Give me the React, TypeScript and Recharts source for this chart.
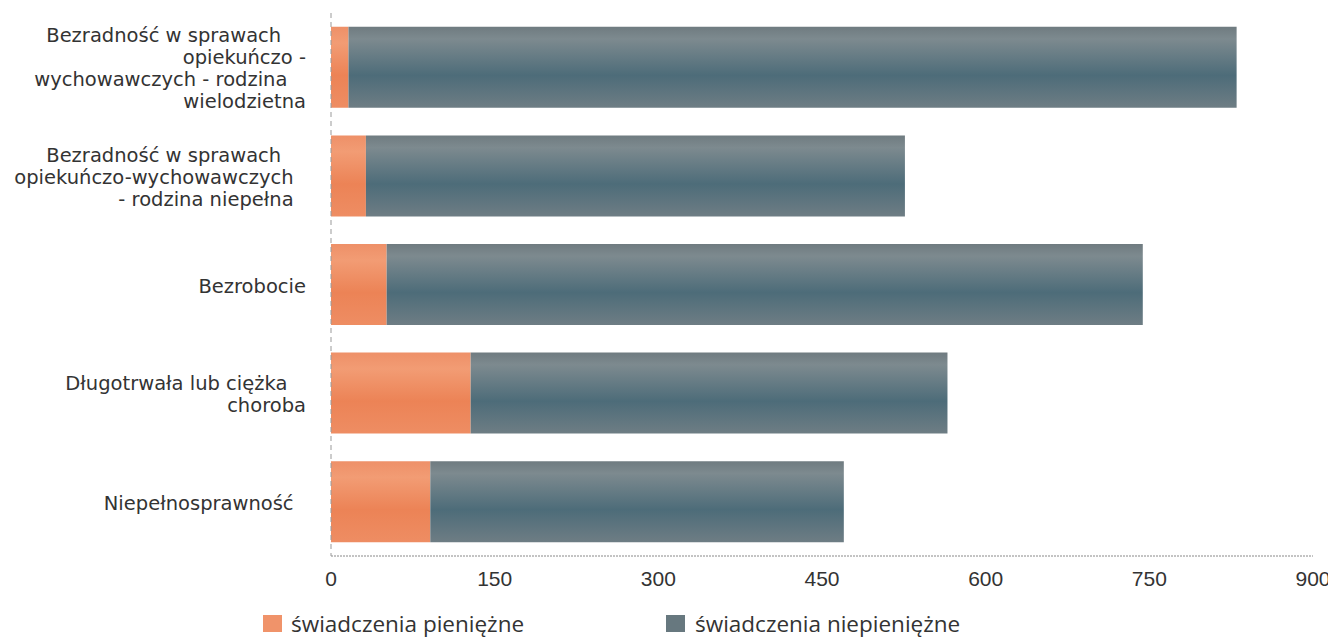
import React from "react";
import { BarChart, Bar, XAxis, YAxis, Legend } from "recharts";

const categories: string[][] = [
  ["Bezradność w sprawach    ", "opiekuńczo -", "wychowawczych - rodzina   ", "wielodzietna"],
  ["Bezradność w sprawach    ", "opiekuńczo-wychowawczych  ", "- rodzina niepełna  "],
  ["Bezrobocie"],
  ["Długotrwała lub ciężka   ", "choroba"],
  ["Niepełnosprawność  "],
];
const pieniezne = [16, 32, 51, 128, 91];
const niepieniezne = [814, 494, 693, 437, 379];
const xTicks = [0, 150, 300, 450, 600, 750, 900];
const seriesNames = ["świadczenia pieniężne", "świadczenia niepieniężne"];

const data = categories.map((c, i) => ({
  name: c.join("|"),
  p: pieniezne[i],
  n: niepieniezne[i],
}));

const YTick = (props: any) => {
  const { x, y, payload } = props;
  const lines: string[] = String(payload.value).split("|");
  const lh = 22;
  const start = -((lines.length - 1) * lh) / 2;
  return (
    <text
      x={x}
      y={y}
      textAnchor="end"
      fontFamily="DejaVu Sans"
      fontSize={19.5}
      fill="#333"
      style={{ whiteSpace: "pre" }}
    >
      {lines.map((l, i) => (
        <tspan key={i} x={x} y={y + start + i * lh + 1} dy="0.36em">
          {l}
        </tspan>
      ))}
    </text>
  );
};

const LegendContent = () => (
  <div style={{ position: "relative", width: 1328, height: 32, fontFamily: "Open Sans", fontSize: 22.5, color: "#333" }}>
    <div style={{ position: "absolute", left: 255, top: 0, display: "flex", alignItems: "center" }}>
      <span style={{ display: "inline-block", width: 19, height: 17, background: "#F0936A", marginRight: 9 }} />
      <span>{seriesNames[0]}</span>
    </div>
    <div style={{ position: "absolute", left: 658, top: 0, display: "flex", alignItems: "center" }}>
      <span style={{ display: "inline-block", width: 19, height: 17, background: "#67787F", marginRight: 10 }} />
      <span>{seriesNames[1]}</span>
    </div>
  </div>
);

export default function App() {
  return (
    <BarChart
      width={1328}
      height={629}
      data={data}
      layout="vertical"
      margin={{ top: 5, right: 23, left: 0, bottom: 51 }}
      barCategoryGap="12.7%"
    >
      <defs>
        <linearGradient id="gGray" x1="0" y1="0" x2="0" y2="1">
          <stop offset="0%" stopColor="#6f7b80" />
          <stop offset="15%" stopColor="#7d8a8f" />
          <stop offset="60%" stopColor="#4d6c79" />
          <stop offset="100%" stopColor="#6e7d84" />
        </linearGradient>
        <linearGradient id="gOrange" x1="0" y1="0" x2="0" y2="1">
          <stop offset="0%" stopColor="#EE9068" />
          <stop offset="20%" stopColor="#F29C74" />
          <stop offset="60%" stopColor="#EC8356" />
          <stop offset="100%" stopColor="#EE8D63" />
        </linearGradient>
      </defs>
      <XAxis
        type="number"
        domain={[0, 900]}
        ticks={xTicks}
        interval={0}
        tickLine={false}
        tickMargin={9}
        height={30}
        axisLine={{ stroke: "#888", strokeDasharray: "2 1" }}
        tick={{ fontFamily: "Liberation Sans", fontSize: 21, fill: "#333" }}
      />
      <YAxis
        type="category"
        dataKey="name"
        width={323}
        tickLine={false}
        tickMargin={19}
        interval={0}
        axisLine={{ stroke: "#999", strokeDasharray: "5 4" }}
        tick={<YTick />}
      />
      <Legend
        layout="horizontal"
        verticalAlign="middle"
        align="center"
        wrapperStyle={{ position: "absolute", top: 600, left: 0, width: 1328 }}
        content={<LegendContent />}
      />
      <Bar dataKey="p" stackId="a" fill="url(#gOrange)" name={seriesNames[0]} isAnimationActive={false} />
      <Bar dataKey="n" stackId="a" fill="url(#gGray)" name={seriesNames[1]} isAnimationActive={false} />
    </BarChart>
  );
}
